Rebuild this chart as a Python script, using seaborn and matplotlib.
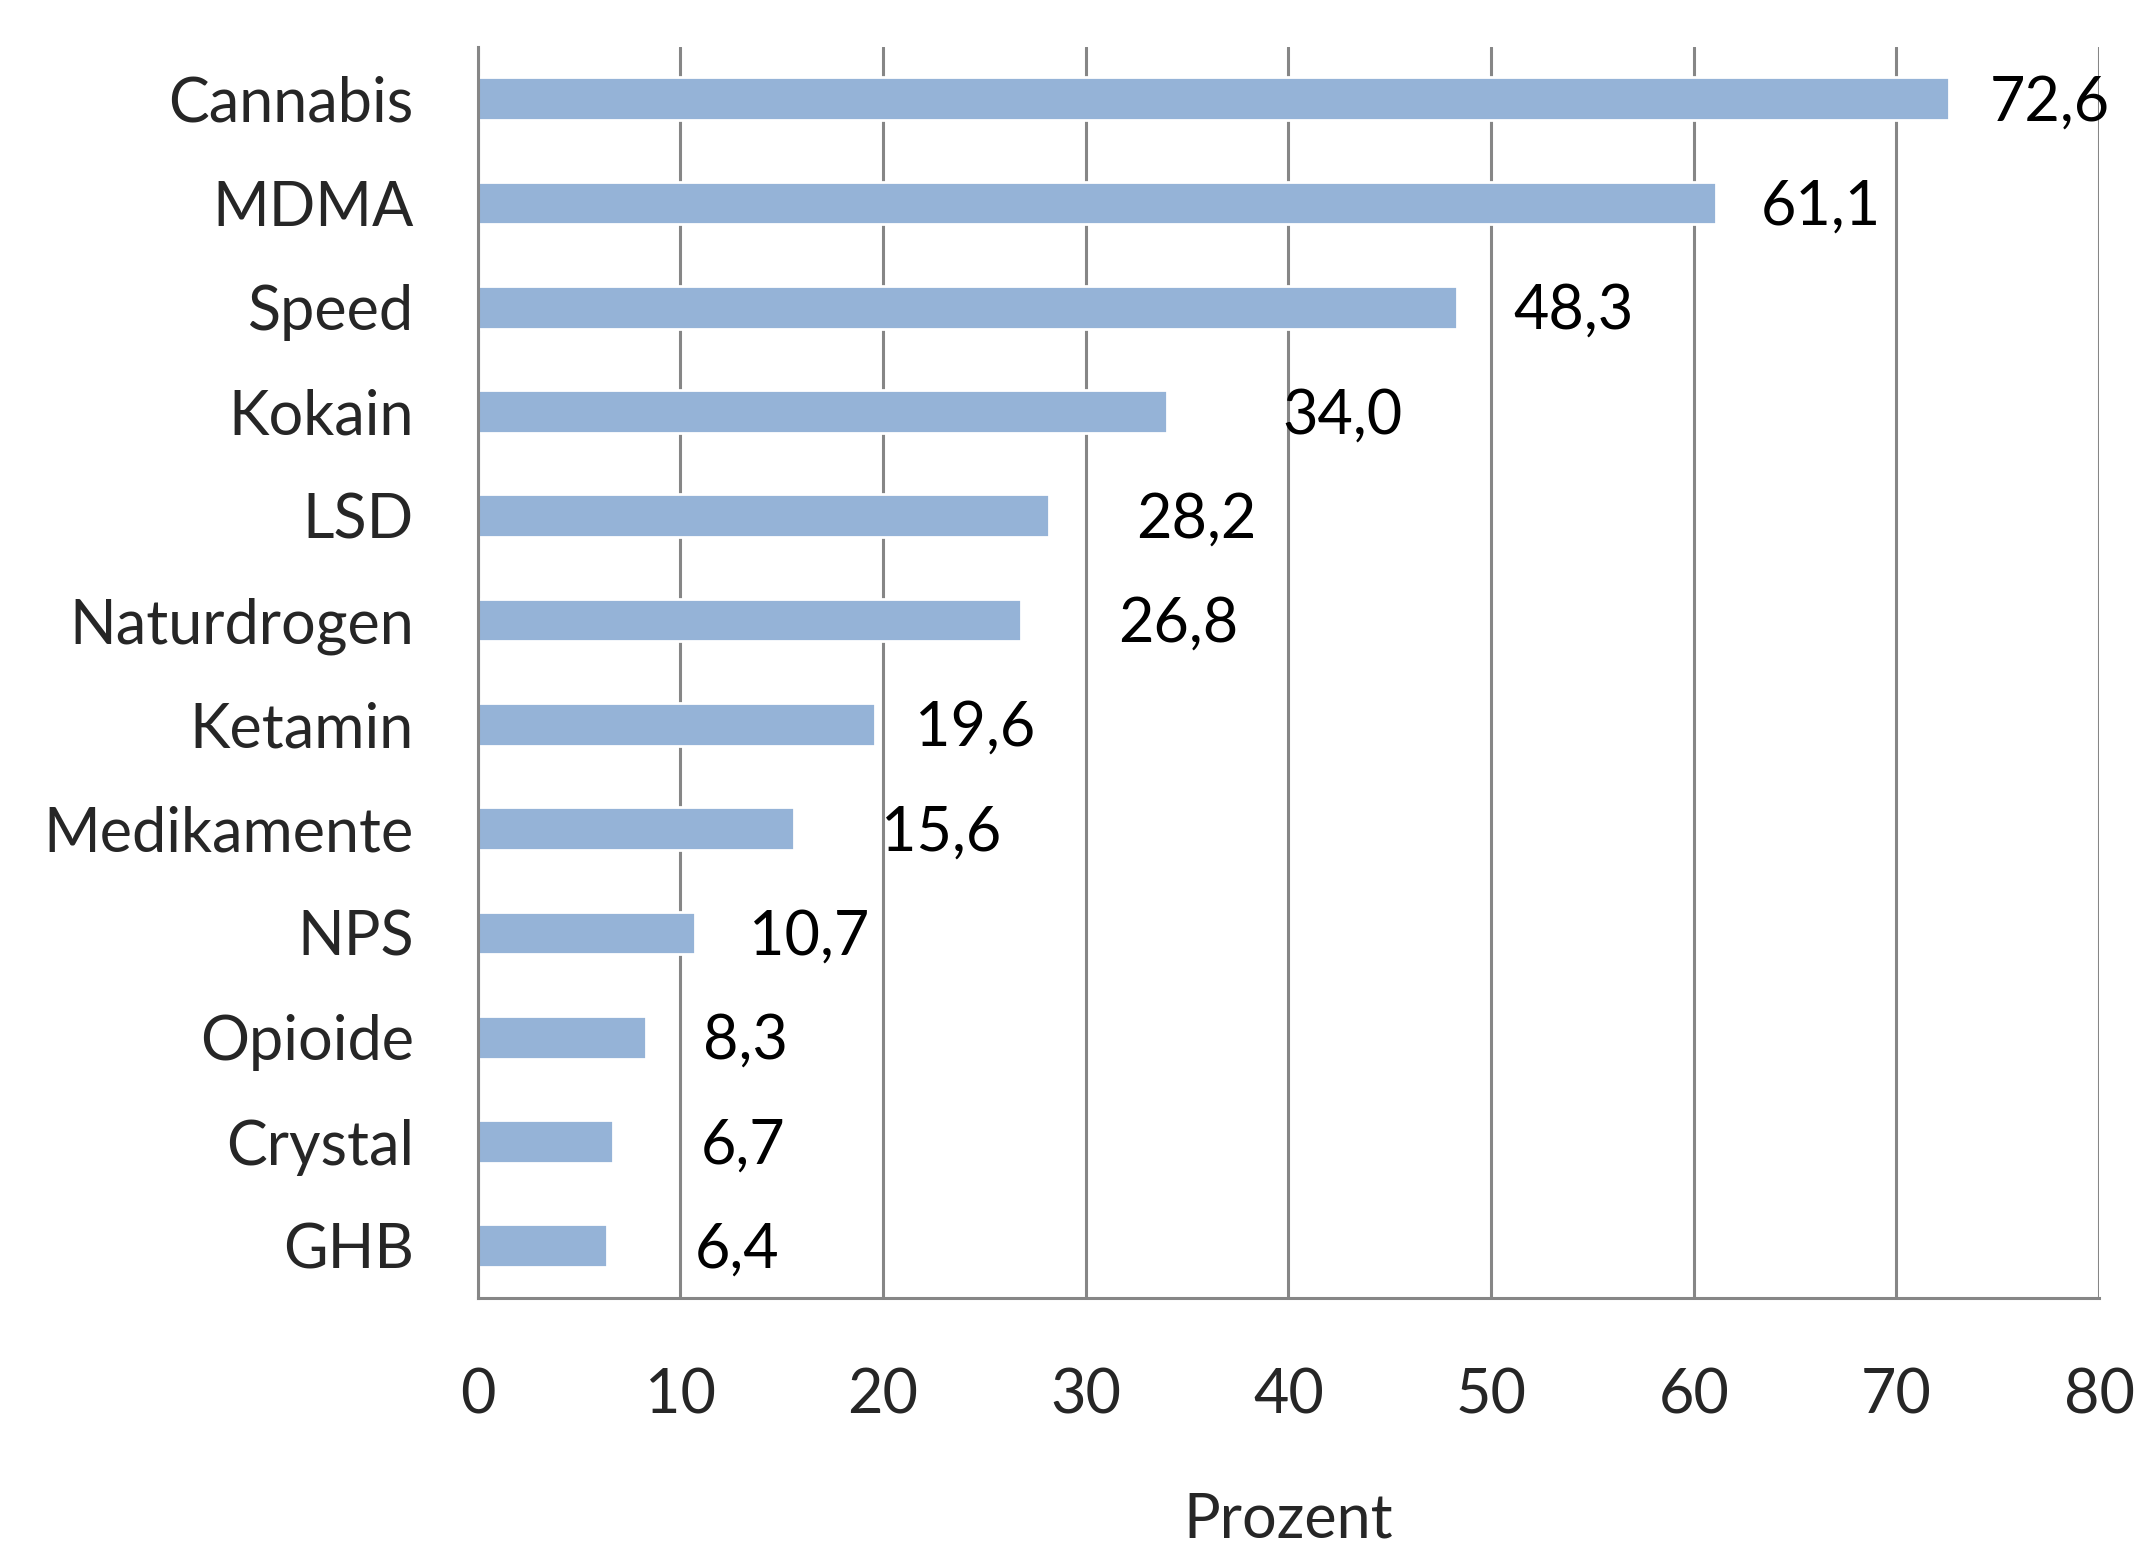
import matplotlib
matplotlib.use("Agg")
import matplotlib.pyplot as plt
import seaborn as sns
import pandas as pd

# --- Daten ---
substanzen = ["Cannabis", "MDMA", "Speed", "Kokain", "LSD", "Naturdrogen",
              "Ketamin", "Medikamente", "NPS", "Opioide", "Crystal", "GHB"]
prozent = [72.6, 61.1, 48.3, 34.0, 28.2, 26.8, 19.6, 15.6, 10.7, 8.3, 6.7, 6.4]
x_ticks = [0, 10, 20, 30, 40, 50, 60, 70, 80]

# Versatz der Datenbeschriftungen (wie im Original, in Prozentpunkten)
label_dx = [2.0, 2.2, 2.8, 5.7, 4.3, 4.8, 2.0, 4.3, 2.7, 2.8, 4.3, 4.3]

bar_color = "#95B3D7"
grey = "#868686"

sns.set_style("white")
plt.rcParams['font.family'] = ['Lato', 'DejaVu Sans']

df = pd.DataFrame({"substanz": substanzen, "prozent": prozent})

fig = plt.figure(figsize=(10.71, 7.76), dpi=200)
ax = fig.add_axes([0.223, 0.1637, 0.980 - 0.223, 0.970 - 0.1637])

sns.barplot(data=df, x="prozent", y="substanz", orient="h", color=bar_color,
            saturation=1, width=0.41, ax=ax)

ax.set_xlim(0, 80)
ax.set_ylim(len(substanzen) - 0.5, -0.5)
ax.set_xticks(x_ticks)
ax.set_xticklabels([str(t) for t in x_ticks])

# Gitterlinien
ax.xaxis.grid(True, color=grey, linewidth=1.1)
ax.yaxis.grid(False)
ax.set_axisbelow(True)

for side in ["top", "right"]:
    ax.spines[side].set_visible(False)
for side in ["left", "bottom"]:
    ax.spines[side].set_color(grey)
    ax.spines[side].set_linewidth(1.1)

# Tick-Striche an den Kategoriegrenzen
ax.set_yticks([i - 0.5 for i in range(len(substanzen) + 1)], minor=True)
ax.tick_params(axis="y", which="major", length=0, pad=23, labelsize=22)
ax.tick_params(axis="y", which="minor", length=9, width=1.1, color=grey)
ax.tick_params(axis="x", which="major", length=7, width=1.1, color=grey,
               pad=18, labelsize=22)

ax.set_ylabel("")
ax.set_xlabel("Prozent", fontsize=22, labelpad=24)

# Datenbeschriftungen
for i, (v, dx) in enumerate(zip(prozent, label_dx)):
    ax.text(v + dx, i + 0.04, f"{v:.1f}".replace(".", ","), ha="left", va="center",
            fontsize=22, color="black")

fig.savefig("out.png", dpi=200)
